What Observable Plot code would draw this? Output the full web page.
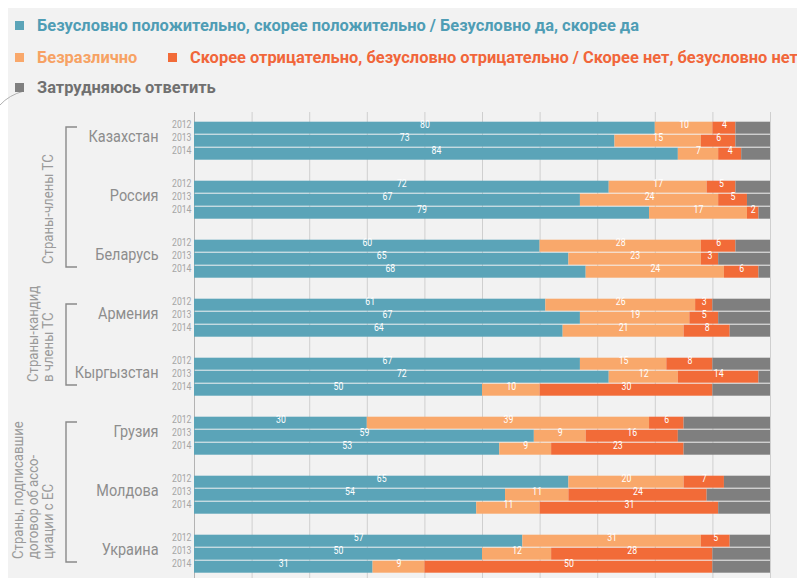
<!DOCTYPE html>
<html><head><meta charset="utf-8">
<script src="https://cdn.jsdelivr.net/npm/d3@7"></script>
<script src="https://cdn.jsdelivr.net/npm/@observablehq/plot@0.6"></script>
<style>
html,body{margin:0;padding:0;background:#fff;}
#wrap{position:relative;width:797px;height:578px;overflow:hidden;background:#fff;font-family:Roboto,"Liberation Sans",sans-serif;}
#panel{position:absolute;left:8px;top:8px;right:0;bottom:0;background:#f2f2f2;}
#arc{position:absolute;left:0;top:80px;}
.row{position:absolute;left:15px;height:20px;display:flex;align-items:center;white-space:nowrap;font-size:17px;font-weight:bold;}
.item{display:flex;align-items:center;margin-right:31px;}
.sw{width:9px;height:9px;margin-right:13px;flex:none;}
.tx{display:inline-block;}
.tx > span{display:inline-block;transform-origin:0 50%;}
#grid,#chart{position:absolute;left:0;top:112px;}
</style></head><body>
<div id="wrap"><div id="panel"></div>
<svg id="arc" width="40" height="40"><path d="M0,25 Q9,15 24,11" fill="none" stroke="#b0b0b0" stroke-width="1"/></svg>
<div id="legend"></div>
<div id="grid"></div><div id="chart"></div></div>
<script>
// ---- data ----
const categories = [
  "Безусловно положительно, скорее положительно / Безусловно да, скорее да",
  "Безразлично",
  "Скорее отрицательно, безусловно отрицательно / Скорее нет, безусловно нет",
  "Затрудняюсь ответить"
];
const countries = ["Казахстан","Россия","Беларусь","Армения","Кыргызстан","Грузия","Молдова","Украина"];
const years = ["2012","2013","2014"];
const groupLabels = [
  ["Страны-члены ТС"],
  ["Страны-кандид","в члены ТС"],
  ["Страны, подписавшие","договор об ассо-","циации с ЕС"]
];
const groupMembers = [
  ["Казахстан","Беларусь"],
  ["Армения","Кыргызстан"],
  ["Грузия","Украина"]
];
// bar lengths as drawn (country × 2012/2013/2014)
const positive    = [80,73,84, 72,67,79, 60,65,68, 61,67,64, 67,72,50, 30,59,53, 65,54,49, 57,50,31];
const indifferent = [10,15,7, 17,24,17, 28,23,24, 26,19,21, 15,12,10, 49,9,9, 20,11,11, 31,12,9];
const negative    = [4,6,4, 5,5,2, 6,3,6, 3,5,8, 8,14,30, 6,16,23, 7,24,31, 5,28,50];
// numbers printed on the bars
const positiveLabels    = [80,73,84, 72,67,79, 60,65,68, 61,67,64, 67,72,50, 30,59,53, 65,54,null, 57,50,31];
const indifferentLabels = [10,15,7, 17,24,17, 28,23,24, 26,19,21, 15,12,10, 39,9,9, 20,11,11, 31,12,9];
const negativeLabels    = [4,6,4, 5,5,2, 6,3,6, 3,5,8, 8,14,30, 6,16,23, 7,24,31, 5,28,50];
const gridTicks = [0,10,20,30,40,50,60,70,80,90,100];

// ---- styles ----
const barColors  = ["#5ba4b8","#f9a86b","#f26b38","#7f7f7f"];
const textColors = ["#4f9db5","#f7a264","#f1663a","#707070"];
const legendRows = [[0],[1,2],[3]];
const legendTops = [15,47,77];
const FONT = 'Roboto,"Liberation Sans",sans-serif';

// ---- legend ----
const legend = document.getElementById("legend");
const legendTexts = [];
legendRows.forEach((r, ri) => {
  const row = document.createElement("div");
  row.className = "row"; row.style.top = legendTops[ri] + "px";
  r.forEach(k => {
    const it = document.createElement("div"); it.className = "item";
    const sw = document.createElement("div"); sw.className = "sw"; sw.style.background = barColors[k];
    const tx = document.createElement("span"); tx.className = "tx";
    const inner = document.createElement("span"); inner.textContent = categories[k]; inner.style.color = textColors[k];
    tx.appendChild(inner);
    it.appendChild(sw); it.appendChild(tx); row.appendChild(it);
    legendTexts.push({tx, inner, k});
  });
  legend.appendChild(row);
});
// condense legend text to the reference's narrow face
const refLegendWidth = 602;
const w0 = legendTexts.find(d => d.k === 0).inner.getBoundingClientRect().width;
const sLeg = refLegendWidth / w0;
legendTexts.forEach(d => {
  const w = d.inner.getBoundingClientRect().width;
  d.inner.style.transform = `scaleX(${sLeg})`;
  d.tx.style.width = (w * sLeg) + "px";
});

// ---- table ----
const rows = [];
countries.forEach((c, ci) => years.forEach((y, yi) => {
  const i = ci * 3 + yi;
  const vals = [positive[i], indifferent[i], negative[i]];
  const labs = [positiveLabels[i], indifferentLabels[i], negativeLabels[i]];
  vals.push(100 - vals[0] - vals[1] - vals[2]); labs.push(null);
  categories.forEach((cat, k) => rows.push({country: c, year: y, category: cat, value: vals[k], label: labs[k]}));
}));

const W = 797, H = 466, ML = 194, MR = 27;

const grid = Plot.plot({
  width: W, height: H, marginLeft: ML, marginRight: MR, marginTop: 0, marginBottom: 0,
  style: {background: "transparent"},
  x: {domain: [0, 100], axis: null},
  marks: [
    Plot.ruleX(gridTicks.slice(1), {stroke: "#cfcfcf", strokeWidth: 1}),
    Plot.ruleX(gridTicks.slice(0, 1), {stroke: "#b3b3b3", strokeWidth: 1})
  ]
});
document.getElementById("grid").appendChild(grid);

const chart = Plot.plot({
  width: W, height: H, marginLeft: ML, marginRight: MR, marginTop: 7.3, marginBottom: 2.2,
  style: {background: "transparent", fontFamily: FONT, overflow: "visible"},
  x: {domain: [0, 100], axis: null},
  y: {domain: years, axis: null, paddingInner: 0.1, paddingOuter: 0},
  fy: {domain: countries, axis: null, paddingInner: 0.315, paddingOuter: 0},
  color: {domain: categories, range: barColors},
  marks: [
    Plot.barX(rows, Plot.stackX({x: "value", y: "year", fy: "country", fill: "category"})),
    Plot.text(rows, Plot.stackX({x: "value", y: "year", fy: "country", text: "label", fill: "white", fontSize: 11.5})),
    Plot.text(rows.filter(d => d.category === categories[0]), {y: "year", fy: "country", text: "year", frameAnchor: "left", textAnchor: "end", dx: -3, fill: "#a5a5a5", fontSize: 11}),
    Plot.text(countries, {fy: d => d, text: d => d, frameAnchor: "left", textAnchor: "end", dx: -36, fill: "#8d8d8d", fontSize: 17})
  ]
});
document.getElementById("chart").appendChild(chart);

// ---- condense SVG texts (reference uses a narrow face) ----
function squeeze(nodes, f) {
  nodes.forEach(n => {
    const x = n.getAttribute("x"), y = n.getAttribute("y");
    let t = n.getAttribute("transform") || "";
    if (x !== null || y !== null) {
      t += ` translate(${+x || 0},${+y || 0})`;
      n.removeAttribute("x"); n.removeAttribute("y");
    }
    n.setAttribute("transform", `${t} scale(${f},1)`);
  });
}
const allText = Array.from(chart.querySelectorAll("text"));
const countryNodes = allText.filter(n => countries.includes(n.textContent));
const yearNodes = allText.filter(n => years.includes(n.textContent));
const valueNodes = allText.filter(n => !countries.includes(n.textContent) && !years.includes(n.textContent));
const kz = countryNodes.find(n => n.textContent === countries[0]);
squeeze(countryNodes, 70 / kz.getBBox().width);
squeeze(yearNodes, 19.5 / yearNodes[0].getBBox().width);
squeeze(valueNodes, 0.76);

// ---- group brackets and labels ----
const fy = chart.scale("fy");
const svg = d3.select(chart);
const groupNodes = [];
groupMembers.forEach((m, gi) => {
  const top = fy.apply(m[0]) + 6;
  const bottom = fy.apply(m[1]) + fy.bandwidth - 12;
  svg.append("path").attr("d", `M77,${top}H66V${bottom}H77`)
    .attr("fill", "none").attr("stroke", "#8a8a8a").attr("stroke-width", 1.4);
  const lines = groupLabels[gi];
  lines.forEach((t, li) => {
    const x = 48 - 15 * (lines.length - 1 - li);
    const node = svg.append("text").attr("transform", `translate(${x},${bottom - 3}) rotate(-90)`)
      .attr("dy", "0.35em").attr("text-anchor", "start")
      .attr("fill", "#9a9a9a").attr("font-size", 15).attr("font-family", FONT).text(t).node();
    groupNodes.push(node);
  });
});
squeeze(groupNodes, 110 / groupNodes[0].getBBox().width);
</script></body></html>
